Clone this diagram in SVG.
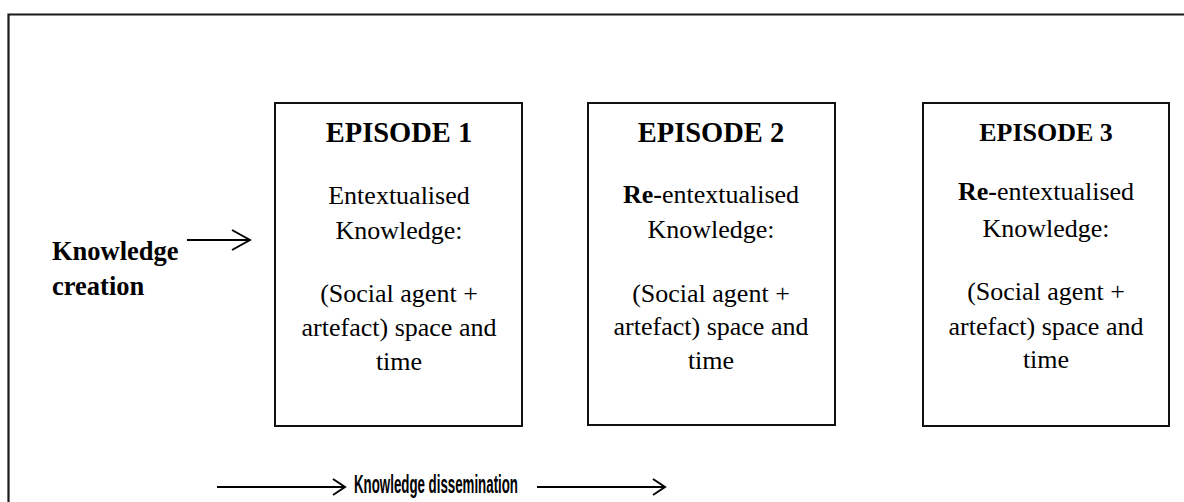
<svg xmlns="http://www.w3.org/2000/svg" width="1184" height="502" viewBox="0 0 1184 502">
<defs>
<style>
.frame{fill:none;stroke:#1a1a1a;stroke-width:2.2}
.box{fill:#fff;stroke:#111;stroke-width:2}
.title{font-family:"Liberation Serif","Times New Roman",serif;font-weight:bold;fill:#000;text-anchor:middle}
.body{font-family:"Liberation Serif","Times New Roman",serif;font-size:26px;fill:#000;text-anchor:middle}
.lbl{font-family:"Liberation Serif","Times New Roman",serif;font-weight:bold;font-size:26.5px;fill:#000}
.diss{font-family:"Liberation Sans",Arial,sans-serif;font-weight:bold;font-size:26px;fill:#000}
.conn{fill:none;stroke:#000;stroke-width:2}
</style>
<marker id="chev" viewBox="0 0 20 20" refX="18" refY="10" markerWidth="20" markerHeight="20" markerUnits="userSpaceOnUse" orient="auto">
<path d="M6,2 L18,10 L6,18" fill="none" stroke="#000" stroke-width="2"/>
</marker>
<marker id="chevL" viewBox="0 0 26 26" refX="24" refY="13" markerWidth="26" markerHeight="26" markerUnits="userSpaceOnUse" orient="auto">
<path d="M6,3 L24,13 L6,23" fill="none" stroke="#000" stroke-width="2"/>
</marker>
</defs>
<rect width="1184" height="502" fill="#fff"/>
<path class="frame" d="M8.5,502 V14.5 H1184"/>

<g id="episode1">
<rect class="box" x="275" y="103" width="247" height="323"/>
<text class="title" x="399" y="142" font-size="28.5">EPISODE 1</text>
<text class="body" x="399" y="204">Entextualised</text>
<text class="body" x="399" y="239">Knowledge:</text>
<text class="body" x="399" y="302">(Social agent +</text>
<text class="body" x="399" y="336">artefact) space and</text>
<text class="body" x="399" y="370">time</text>
</g>

<g id="episode2">
<rect class="box" x="588" y="103" width="247" height="322"/>
<text class="title" x="711" y="142" font-size="28.5">EPISODE 2</text>
<text class="body" x="711" y="203"><tspan font-weight="bold">Re-</tspan>entextualised</text>
<text class="body" x="711" y="238">Knowledge:</text>
<text class="body" x="711" y="302">(Social agent +</text>
<text class="body" x="711" y="335">artefact) space and</text>
<text class="body" x="711" y="369">time</text>
</g>

<g id="episode3">
<rect class="box" x="923" y="103" width="246" height="323"/>
<text class="title" x="1046" y="141" font-size="26">EPISODE 3</text>
<text class="body" x="1046" y="200"><tspan font-weight="bold">Re-</tspan>entextualised</text>
<text class="body" x="1046" y="237">Knowledge:</text>
<text class="body" x="1046" y="300">(Social agent +</text>
<text class="body" x="1046" y="335">artefact) space and</text>
<text class="body" x="1046" y="368">time</text>
</g>

<g id="knowledge-creation">
<text class="lbl" x="52" y="260">Knowledge</text>
<text class="lbl" x="52" y="295">creation</text>
</g>

<g id="knowledge-dissemination">
<text class="diss" x="354" y="493" textLength="164" lengthAdjust="spacingAndGlyphs">Knowledge dissemination</text>
</g>

<g id="connectors">
<line class="conn" x1="187" y1="240" x2="250" y2="240" marker-end="url(#chevL)"/>
<line class="conn" x1="217" y1="487" x2="345" y2="487" marker-end="url(#chev)"/>
<line class="conn" x1="537" y1="487" x2="665" y2="487" marker-end="url(#chev)"/>
</g>
</svg>
